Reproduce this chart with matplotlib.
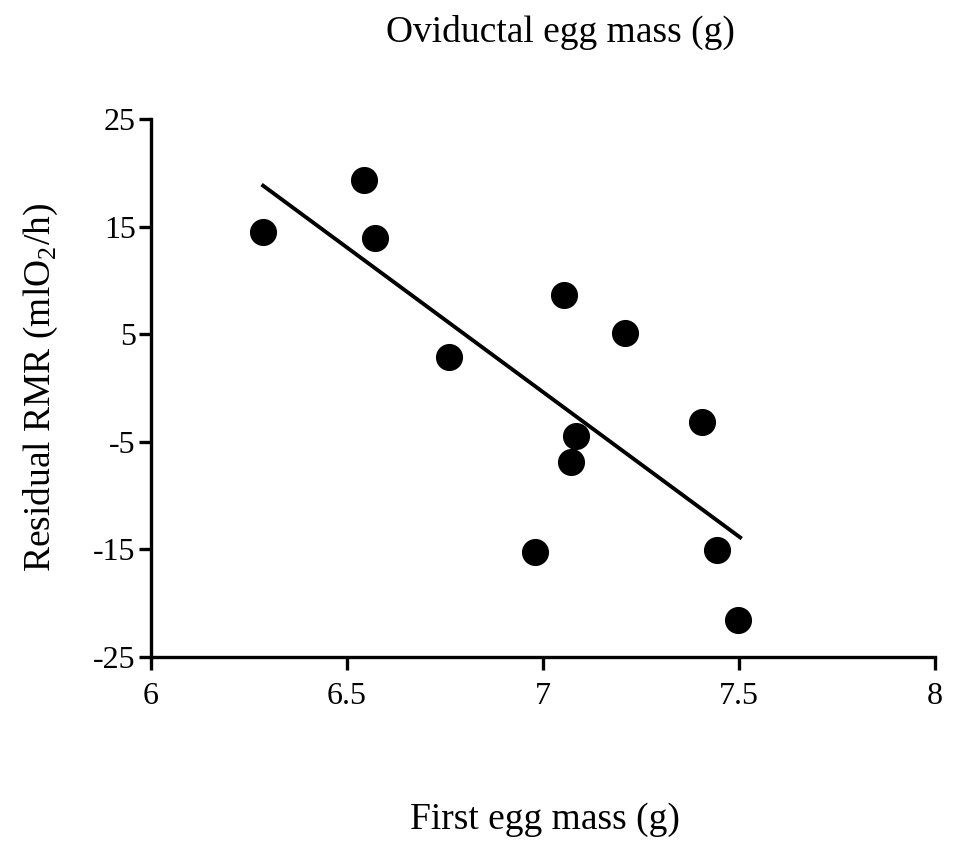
import matplotlib
matplotlib.use("Agg")
import matplotlib.pyplot as plt

plt.rcParams['font.family'] = ['Liberation Serif', 'DejaVu Serif']
plt.rcParams['mathtext.fontset'] = 'custom'
plt.rcParams['mathtext.rm'] = 'Liberation Serif'

# first egg mass (g) vs residual RMR
egg_mass = [6.286, 6.543, 6.571, 6.760, 6.980, 7.054, 7.071, 7.084, 7.209, 7.406, 7.444, 7.497]
resid_rmr = [14.5, 19.3, 13.9, 2.9, -15.3, 8.6, -6.9, -4.5, 5.1, -3.2, -15.1, -21.6]

# regression line end points
fit_x = [6.286, 7.503]
fit_y = [18.8, -13.9]

x_ticks = [6, 6.5, 7, 7.5, 8]
x_labels = ['6', '6.5', '7', '7.5', '8']
y_ticks = [-25, -15, -5, 5, 15, 25]
y_labels = ['-25', '-15', '-5', '5', '15', '25']

fig = plt.figure(figsize=(9.56, 8.41), dpi=100)
ax = fig.add_axes([0.158, 0.219, 0.820, 0.6395])

ax.plot(egg_mass, resid_rmr, 'o', color='black', markersize=18.5)
ax.plot(fit_x, fit_y, '-', color='black', linewidth=2.8)

ax.set_xlim(6, 8)
ax.set_ylim(-25, 25)
ax.set_xticks(x_ticks)
ax.set_xticklabels(x_labels)
ax.set_yticks(y_ticks)
ax.set_yticklabels(y_labels)
for s in ['top', 'right']:
    ax.spines[s].set_visible(False)
for s in ['left', 'bottom']:
    ax.spines[s].set_linewidth(2.4)
ax.tick_params(direction='out', length=9, width=2.4, labelsize=23)
ax.tick_params(axis='x', pad=9)
ax.tick_params(axis='y', pad=2)

ax.set_ylabel('Residual RMR (mlO$_2$/h)', fontsize=27, labelpad=24)
fig.text(0.586, 0.961, 'Oviductal egg mass (g)', ha='center', va='center', fontsize=27)
fig.text(0.570, 0.025, 'First egg mass (g)', ha='center', va='center', fontsize=27)

fig.savefig('out.png', dpi=100)
